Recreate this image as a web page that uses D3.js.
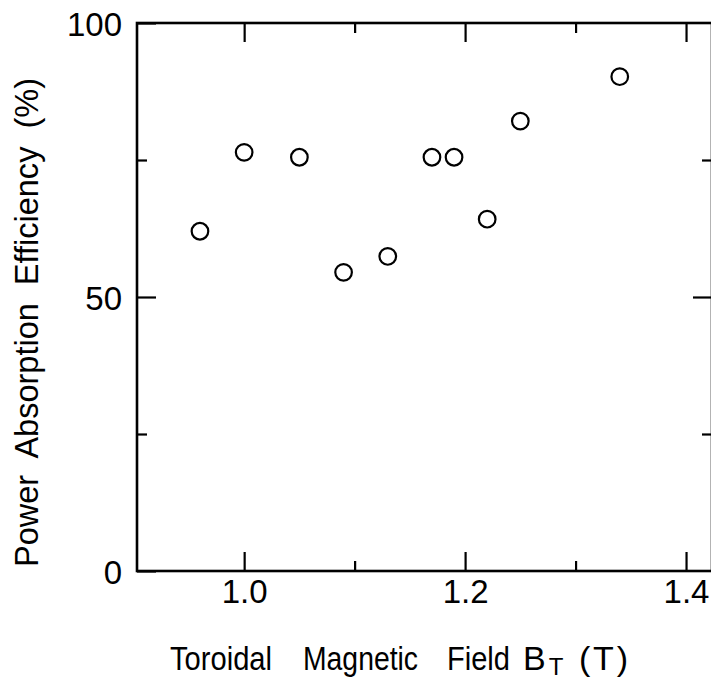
<!DOCTYPE html>
<html>
<head>
<meta charset="utf-8">
<script src="https://cdn.jsdelivr.net/npm/d3@7"></script>
<style>
  body { margin: 0; background: #fff; }
  svg text { font-family: "Liberation Sans", "DejaVu Sans", sans-serif; fill: #000; white-space: pre; }
  .axis path { display: none; }
  .axis line { stroke: #000; stroke-width: 2.2; }
</style>
</head>
<body>
<svg id="chart" width="711" height="679"></svg>
<script>
// field B_T (T) vs absorption efficiency (%)
const field      = [0.96, 1.00, 1.05, 1.09, 1.13, 1.17, 1.19, 1.22, 1.25, 1.34];
const efficiency = [62.0, 76.4, 75.5, 54.5, 57.4, 75.5, 75.5, 64.2, 82.1, 90.2];

const xMajor = [1.0, 1.2, 1.4];
const xMinor = [1.1, 1.3];
const yMajor = [0, 50, 100];
const yMinor = [25, 75];

const svg = d3.select("#chart");

const x = d3.scaleLinear().domain([0.903, 1.4235]).range([137, 712]);
const y = d3.scaleLinear().domain([0, 100]).range([571, 23]);

const xLeft = x.range()[0], xRight = x.range()[1];
const yTop = y.range()[1], yBottom = y.range()[0];

// frame
svg.append("rect")
    .attr("x", xLeft).attr("y", yTop)
    .attr("width", xRight - xLeft).attr("height", yBottom - yTop)
    .attr("fill", "none").attr("stroke", "#000").attr("stroke-width", 2.6);

// bottom ticks (inward) + labels
svg.append("g").attr("class", "axis")
    .attr("transform", "translate(0," + yBottom + ")")
    .call(d3.axisBottom(x).tickValues(xMajor).tickSize(-19).tickPadding(32).tickFormat(d3.format(".1f")))
    .selectAll("text").style("font-size", "33px").attr("dy", "0");

svg.append("g").attr("class", "axis")
    .attr("transform", "translate(0," + yBottom + ")")
    .call(d3.axisBottom(x).tickValues(xMinor).tickSize(-10).tickFormat(""));

// top ticks
svg.append("g").attr("class", "axis")
    .attr("transform", "translate(0," + yTop + ")")
    .call(d3.axisTop(x).tickValues(xMajor).tickSize(-19).tickFormat(""));
svg.append("g").attr("class", "axis")
    .attr("transform", "translate(0," + yTop + ")")
    .call(d3.axisTop(x).tickValues(xMinor).tickSize(-10).tickFormat(""));

// left ticks + labels
svg.append("g").attr("class", "axis")
    .attr("transform", "translate(" + xLeft + ",0)")
    .call(d3.axisLeft(y).tickValues(yMajor).tickSize(-19).tickPadding(15).tickFormat(d3.format("d")))
    .selectAll("text").style("font-size", "33px").attr("dy", "0.38em");
svg.append("g").attr("class", "axis")
    .attr("transform", "translate(" + xLeft + ",0)")
    .call(d3.axisLeft(y).tickValues(yMinor).tickSize(-10).tickFormat(""));

// right ticks
svg.append("g").attr("class", "axis")
    .attr("transform", "translate(" + xRight + ",0)")
    .call(d3.axisRight(y).tickValues([50]).tickSize(-19).tickFormat(""));
svg.append("g").attr("class", "axis")
    .attr("transform", "translate(" + xRight + ",0)")
    .call(d3.axisRight(y).tickValues(yMinor).tickSize(-10).tickFormat(""));

// data points
svg.selectAll(".dot")
    .data(field.map((f, i) => ({x: f, y: efficiency[i]})))
    .enter().append("circle")
    .attr("class", "dot")
    .attr("cx", d => x(d.x))
    .attr("cy", d => y(d.y))
    .attr("r", 8.3)
    .attr("fill", "none")
    .attr("stroke", "#000")
    .attr("stroke-width", 2.2);

// x axis title, word by word
const titleWords = [
    {t: "Toroidal", x: 170, w: 102},
    {t: "Magnetic", x: 303, w: 115},
    {t: "Field",    x: 447, w: 63}
];
svg.selectAll(".xtitle")
    .data(titleWords)
    .enter().append("text")
    .attr("class", "xtitle")
    .attr("x", d => d.x).attr("y", 670)
    .attr("textLength", d => d.w).attr("lengthAdjust", "spacingAndGlyphs")
    .style("font-size", "34px")
    .text(d => d.t);

const bt = svg.append("text")
    .attr("x", 523).attr("y", 670)
    .style("font-size", "34px");
bt.append("tspan").text("B");
bt.append("tspan").attr("dx", 3).attr("dy", 5).style("font-size", "24px").text("T");

svg.append("text")
    .attr("x", 579).attr("y", 670)
    .attr("textLength", 49).attr("lengthAdjust", "spacing")
    .style("font-size", "34px")
    .text("(T)");

// y axis title
svg.append("text")
    .attr("transform", "translate(38,567) rotate(-90)")
    .attr("x", 0).attr("y", 0)
    .attr("textLength", 489).attr("lengthAdjust", "spacingAndGlyphs")
    .style("font-size", "34px")
    .text("Power  Absorption  Efficiency  (%)");
</script>
</body>
</html>
